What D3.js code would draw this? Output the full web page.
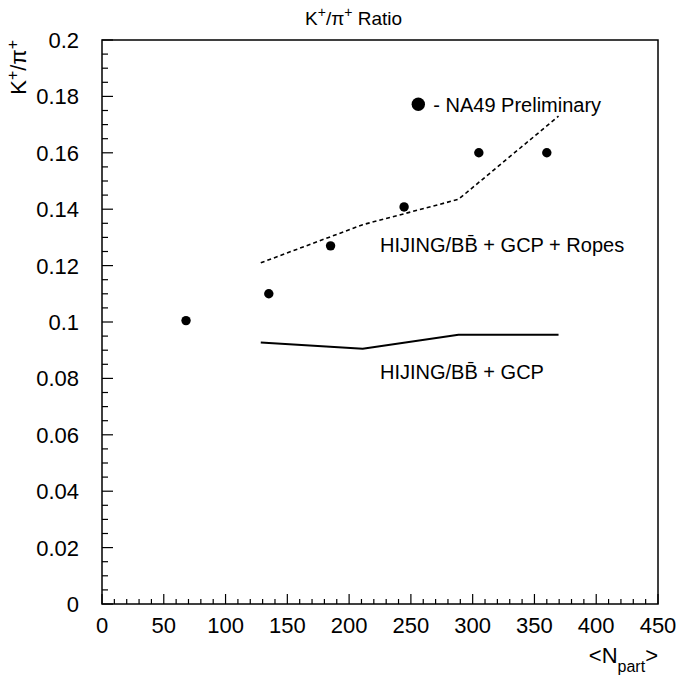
<!DOCTYPE html>
<html>
<head>
<meta charset="utf-8">
<script src="https://cdn.jsdelivr.net/npm/d3@7"></script>
<style>
    body { margin: 0; background: #fff; }
    svg { display: block; font-family: "Liberation Sans", Arial, sans-serif; }
</style>
</head>
<body>
<div id="chart"></div>
<script>
// NA49 preliminary points
const npart = [68, 135, 185, 244.5, 305, 360];
const ratio = [0.1005, 0.110, 0.127, 0.1408, 0.160, 0.160];

// HIJING/BBbar model curves
const modelNpart = [128.5, 211, 288.5, 369.5];
const gcp = [0.0927, 0.0905, 0.0955, 0.0955];
const ropes = [0.121, 0.1345, 0.1435, 0.173];

// axis ticks
const xTicks = [0, 50, 100, 150, 200, 250, 300, 350, 400, 450];
const yTicks = [0, 0.02, 0.04, 0.06, 0.08, 0.1, 0.12, 0.14, 0.16, 0.18, 0.2];

// Chart sizes
const width = 680,
    height = 679,
    margin = ({top: 40, right: 22, bottom: 75, left: 102});

const svg = d3.select("#chart")
    .append("svg")
    .attr("width", width)
    .attr("height", height);

// Scales
const x = d3.scaleLinear()
    .domain([0, 450])
    .range([margin.left, width - margin.right]);

const y = d3.scaleLinear()
    .domain([0, 0.2])
    .range([height - margin.bottom, margin.top]);

// Minor ticks
const xMinor = d3.range(0, 451, 10).filter(d => d % 50 !== 0);
const yMinor = d3.range(0, 41).map(i => i * 0.005).filter((d, i) => i % 4 !== 0);

// Bottom axis ticks (inside the frame)
svg.append("g")
    .selectAll("line")
    .data(xTicks.map(d => [d, 10]).concat(xMinor.map(d => [d, 5])))
    .join("line")
    .attr("x1", d => x(d[0]))
    .attr("x2", d => x(d[0]))
    .attr("y1", y(0))
    .attr("y2", d => y(0) - d[1])
    .attr("stroke", "#000")
    .attr("stroke-width", 1.2);

// Left axis ticks
svg.append("g")
    .selectAll("line")
    .data(yTicks.map(d => [d, 11]).concat(yMinor.map(d => [d, 6])))
    .join("line")
    .attr("x1", x(0))
    .attr("x2", d => x(0) + d[1])
    .attr("y1", d => y(d[0]))
    .attr("y2", d => y(d[0]))
    .attr("stroke", "#000")
    .attr("stroke-width", 1.2);

// Frame
svg.append("rect")
    .attr("x", x(0))
    .attr("y", y(0.2))
    .attr("width", x(450) - x(0))
    .attr("height", y(0) - y(0.2))
    .attr("fill", "none")
    .attr("stroke", "#000")
    .attr("stroke-width", 1.5);

// Tick labels
svg.append("g")
    .selectAll("text")
    .data(xTicks)
    .join("text")
    .attr("x", d => x(d))
    .attr("y", y(0) + 29)
    .attr("text-anchor", "middle")
    .style("font-size", "22px")
    .text(d => d);

svg.append("g")
    .selectAll("text")
    .data(yTicks)
    .join("text")
    .attr("x", x(0) - 23)
    .attr("y", d => y(d))
    .attr("dy", "0.36em")
    .attr("text-anchor", "end")
    .style("font-size", "22px")
    .text(d => d3.format("~g")(d));

// Model lines
const line = d3.line()
    .x((d, i) => x(modelNpart[i]))
    .y(d => y(d));

svg.append("path")
    .datum(gcp)
    .attr("fill", "none")
    .attr("stroke", "#000")
    .attr("stroke-width", 2)
    .attr("d", line);

svg.append("path")
    .datum(ropes)
    .attr("fill", "none")
    .attr("stroke", "#000")
    .attr("stroke-width", 1.6)
    .attr("stroke-dasharray", "4,3")
    .attr("d", line);

// Data points
svg.append("g")
    .selectAll("circle")
    .data(npart)
    .join("circle")
    .attr("cx", d => x(d))
    .attr("cy", (d, i) => y(ratio[i]))
    .attr("r", 4.7)
    .attr("fill", "#000");

// Legend marker
svg.append("circle")
    .attr("cx", x(256))
    .attr("cy", y(0.1772))
    .attr("r", 6.7)
    .attr("fill", "#000");

svg.append("text")
    .attr("x", x(256) + 15)
    .attr("y", y(0.1772) + 7.5)
    .style("font-size", "20px")
    .text("- NA49 Preliminary");

// Model labels
svg.append("text")
    .attr("x", 380)
    .attr("y", 252)
    .style("font-size", "20px")
    .text("HIJING/BB\u0304 + GCP + Ropes");

svg.append("text")
    .attr("x", 380)
    .attr("y", 379)
    .style("font-size", "20px")
    .text("HIJING/BB\u0304 + GCP");

// Title
const title = svg.append("text")
    .attr("x", 305)
    .attr("y", 25)
    .style("font-size", "19px");
title.append("tspan").text("K");
title.append("tspan").attr("baseline-shift", "super").style("font-size", "14px").text("+");
title.append("tspan").text("/\u03c0");
title.append("tspan").attr("baseline-shift", "super").style("font-size", "14px").text("+");
title.append("tspan").text(" Ratio");

// x-axis label
const xLabel = svg.append("text")
    .attr("x", x(450))
    .attr("y", 663)
    .attr("text-anchor", "end")
    .style("font-size", "22px");
xLabel.append("tspan").text("<N");
xLabel.append("tspan").attr("baseline-shift", "sub").style("font-size", "16px").text("part");
xLabel.append("tspan").text(">");

// y-axis label
const yLabel = svg.append("text")
    .attr("transform", "translate(26,40) rotate(-90)")
    .attr("text-anchor", "end")
    .style("font-size", "22px");
yLabel.append("tspan").text("K");
yLabel.append("tspan").attr("baseline-shift", "super").style("font-size", "16px").text("+");
yLabel.append("tspan").text("/\u03c0");
yLabel.append("tspan").attr("baseline-shift", "super").style("font-size", "16px").text("+");
</script>
</body>
</html>
